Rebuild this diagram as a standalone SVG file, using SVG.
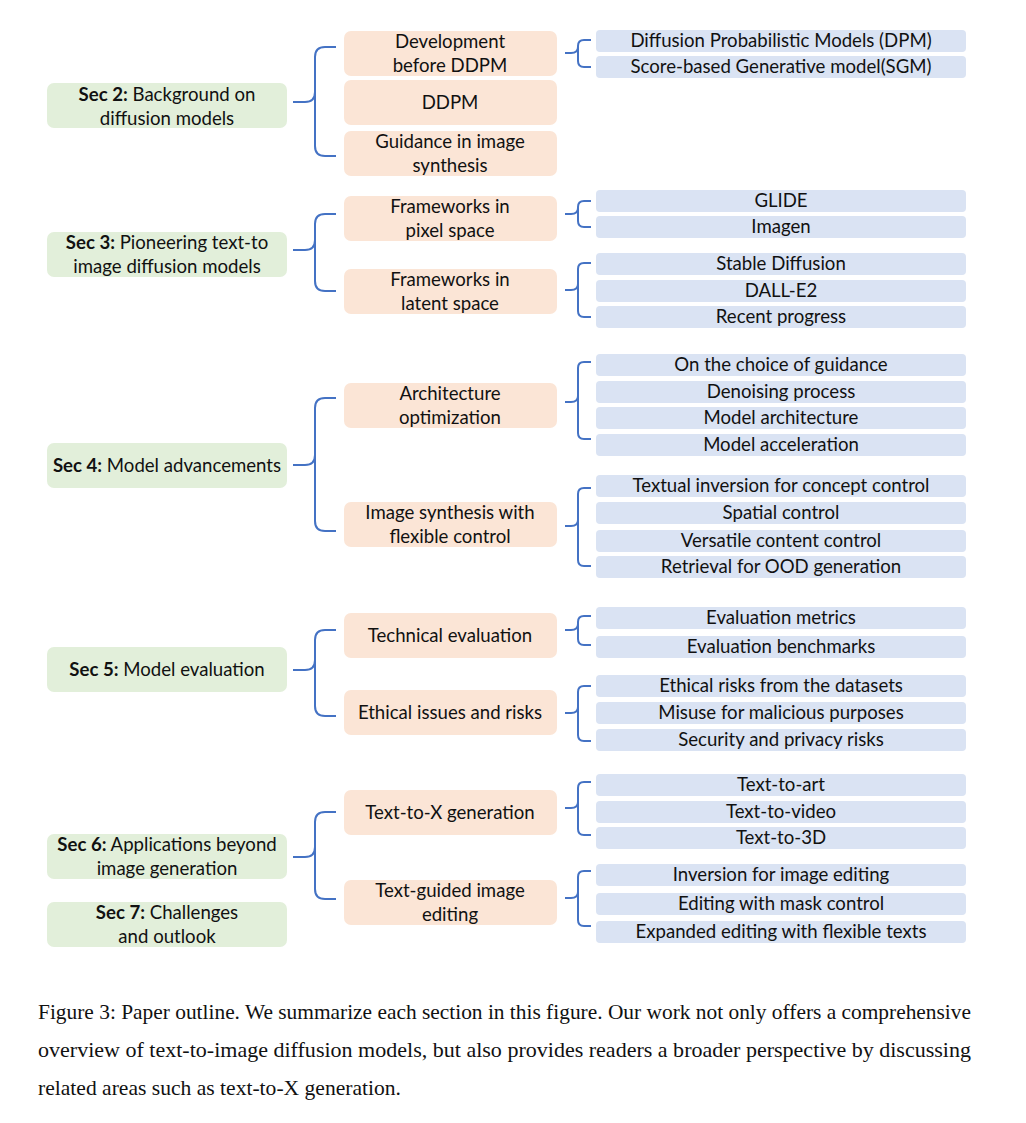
<svg xmlns="http://www.w3.org/2000/svg" width="1026" height="1123" viewBox="0 0 1026 1123">
<style>
.g{fill:#e2efda}
.o{fill:#fbe5d6}
.b{fill:#dae3f3}
text{font-family:Lato,"Open Sans","Liberation Sans",sans-serif;font-size:18.6px;fill:#111;text-anchor:middle}
.cap{font-family:"Liberation Serif","Times New Roman",serif;font-size:21px;text-anchor:start}
.br{fill:none;stroke:#4472c4;stroke-width:2}
</style>
<rect width="1026" height="1123" fill="#fff"/>
<g id="connectors">
<path class="br" d="M293,102 H305 Q315,102 315,92 V57 Q315,47 325,47 H336 M315,92 V146 Q315,156 325,156 H336"/>
<path class="br" d="M293,250 H305 Q315,250 315,240 V224 Q315,214 325,214 H336 M315,240 V281 Q315,291 325,291 H336"/>
<path class="br" d="M293,465 H305 Q315,465 315,455 V408 Q315,398 325,398 H336 M315,455 V521 Q315,531 325,531 H336"/>
<path class="br" d="M293,670 H305 Q315,670 315,660 V640 Q315,630 325,630 H336 M315,660 V706 Q315,716 325,716 H336"/>
<path class="br" d="M293,857 H305 Q315,857 315,847 V822 Q315,812 325,812 H336 M315,847 V889 Q315,899 325,899 H336"/>
<path class="br" d="M565,53 H571 Q578,53 578,47 V46 Q578,40 584,40 H591 M578,47 V61 Q578,67 584,67 H591"/>
<path class="br" d="M565,214 H571 Q578,214 578,208 V207 Q578,201 584,201 H591 M578,208 V221 Q578,227 584,227 H591"/>
<path class="br" d="M565,290 H571 Q578,290 578,284 V269 Q578,263 584,263 H591 M578,284 V311 Q578,317 584,317 H591"/>
<path class="br" d="M565,402 H571 Q578,402 578,396 V368 Q578,362 584,362 H591 M578,396 V433 Q578,439 584,439 H591"/>
<path class="br" d="M565,526 H571 Q578,526 578,520 V494 Q578,488 584,488 H591 M578,520 V560 Q578,566 584,566 H591"/>
<path class="br" d="M565,630 H571 Q578,630 578,624 V622 Q578,616 584,616 H591 M578,624 V639 Q578,645 584,645 H591"/>
<path class="br" d="M565,713 H571 Q578,713 578,707 V692 Q578,686 584,686 H591 M578,707 V735 Q578,741 584,741 H591"/>
<path class="br" d="M565,808 H571 Q578,808 578,802 V788 Q578,782 584,782 H591 M578,802 V829 Q578,835 584,835 H591"/>
<path class="br" d="M565,898 H571 Q578,898 578,892 V877 Q578,871 584,871 H591 M578,892 V920 Q578,926 584,926 H591"/>
</g>
<g id="sec2"><rect class="g" x="47" y="83" width="240" height="45" rx="7"/><text x="167" y="101"><tspan font-weight="bold">Sec 2:</tspan> Background on</text><text x="167" y="125">diffusion models</text></g>
<g id="sec3"><rect class="g" x="47" y="232" width="240" height="45" rx="7"/><text x="167" y="249"><tspan font-weight="bold">Sec 3:</tspan> Pioneering text-to</text><text x="167" y="273">image diffusion models</text></g>
<g id="sec4"><rect class="g" x="47" y="443" width="240" height="45" rx="7"/><text x="167" y="472"><tspan font-weight="bold">Sec 4:</tspan> Model advancements</text></g>
<g id="sec5"><rect class="g" x="47" y="647" width="240" height="45" rx="7"/><text x="167" y="676"><tspan font-weight="bold">Sec 5:</tspan> Model evaluation</text></g>
<g id="sec6"><rect class="g" x="47" y="834" width="240" height="45" rx="7"/><text x="167" y="851"><tspan font-weight="bold">Sec 6:</tspan> Applications beyond</text><text x="167" y="875">image generation</text></g>
<g id="sec7"><rect class="g" x="47" y="902" width="240" height="45" rx="7"/><text x="167" y="919"><tspan font-weight="bold">Sec 7:</tspan> Challenges</text><text x="167" y="943">and outlook</text></g>

<g id="dev"><rect class="o" x="344" y="31" width="213" height="45" rx="7"/><text x="450" y="48">Development</text><text x="450" y="72">before DDPM</text></g>
<g id="ddpm"><rect class="o" x="344" y="80" width="213" height="45" rx="7"/><text x="450" y="109">DDPM</text></g>
<g id="guid"><rect class="o" x="344" y="131" width="213" height="45" rx="7"/><text x="450" y="148">Guidance in image</text><text x="450" y="172">synthesis</text></g>
<g id="pixel"><rect class="o" x="344" y="196" width="213" height="45" rx="7"/><text x="450" y="213">Frameworks in</text><text x="450" y="237">pixel space</text></g>
<g id="latent"><rect class="o" x="344" y="269" width="213" height="45" rx="7"/><text x="450" y="286">Frameworks in</text><text x="450" y="310">latent space</text></g>
<g id="arch"><rect class="o" x="344" y="383" width="213" height="45" rx="7"/><text x="450" y="400">Architecture</text><text x="450" y="424">optimization</text></g>
<g id="flex"><rect class="o" x="344" y="502" width="213" height="45" rx="7"/><text x="450" y="519">Image synthesis with</text><text x="450" y="543">flexible control</text></g>
<g id="tech"><rect class="o" x="344" y="613" width="213" height="45" rx="7"/><text x="450" y="642">Technical evaluation</text></g>
<g id="ethic"><rect class="o" x="344" y="690" width="213" height="45" rx="7"/><text x="450" y="719">Ethical issues and risks</text></g>
<g id="t2x"><rect class="o" x="344" y="790" width="213" height="45" rx="7"/><text x="450" y="819">Text-to-X generation</text></g>
<g id="tgie"><rect class="o" x="344" y="880" width="213" height="45" rx="7"/><text x="450" y="897">Text-guided image</text><text x="450" y="921">editing</text></g>

<g id="l_dpm"><rect class="b" x="596" y="30" width="370" height="22" rx="4"/><text x="781" y="47">Diffusion Probabilistic Models (DPM)</text></g>
<g id="l_sgm"><rect class="b" x="596" y="56" width="370" height="22" rx="4"/><text x="781" y="73">Score-based Generative model(SGM)</text></g>
<g id="l_glide"><rect class="b" x="596" y="190" width="370" height="22" rx="4"/><text x="781" y="207">GLIDE</text></g>
<g id="l_imagen"><rect class="b" x="596" y="216" width="370" height="22" rx="4"/><text x="781" y="233">Imagen</text></g>
<g id="l_sd"><rect class="b" x="596" y="253" width="370" height="22" rx="4"/><text x="781" y="270">Stable Diffusion</text></g>
<g id="l_dalle"><rect class="b" x="596" y="280" width="370" height="22" rx="4"/><text x="781" y="297">DALL-E2</text></g>
<g id="l_recent"><rect class="b" x="596" y="306" width="370" height="22" rx="4"/><text x="781" y="323">Recent progress</text></g>
<g id="l_choice"><rect class="b" x="596" y="354" width="370" height="22" rx="4"/><text x="781" y="371">On the choice of guidance</text></g>
<g id="l_denoise"><rect class="b" x="596" y="381" width="370" height="22" rx="4"/><text x="781" y="398">Denoising process</text></g>
<g id="l_march"><rect class="b" x="596" y="407" width="370" height="22" rx="4"/><text x="781" y="424">Model architecture</text></g>
<g id="l_macc"><rect class="b" x="596" y="434" width="370" height="22" rx="4"/><text x="781" y="451">Model acceleration</text></g>
<g id="l_textinv"><rect class="b" x="596" y="475" width="370" height="22" rx="4"/><text x="781" y="492">Textual inversion for concept control</text></g>
<g id="l_spatial"><rect class="b" x="596" y="502" width="370" height="22" rx="4"/><text x="781" y="519">Spatial control</text></g>
<g id="l_vers"><rect class="b" x="596" y="530" width="370" height="22" rx="4"/><text x="781" y="547">Versatile content control</text></g>
<g id="l_retr"><rect class="b" x="596" y="556" width="370" height="22" rx="4"/><text x="781" y="573">Retrieval for OOD generation</text></g>
<g id="l_emet"><rect class="b" x="596" y="607" width="370" height="22" rx="4"/><text x="781" y="624">Evaluation metrics</text></g>
<g id="l_ebench"><rect class="b" x="596" y="636" width="370" height="22" rx="4"/><text x="781" y="653">Evaluation benchmarks</text></g>
<g id="l_erisk"><rect class="b" x="596" y="675" width="370" height="22" rx="4"/><text x="781" y="692">Ethical risks from the datasets</text></g>
<g id="l_misuse"><rect class="b" x="596" y="702" width="370" height="22" rx="4"/><text x="781" y="719">Misuse for malicious purposes</text></g>
<g id="l_sec"><rect class="b" x="596" y="729" width="370" height="22" rx="4"/><text x="781" y="746">Security and privacy risks</text></g>
<g id="l_art"><rect class="b" x="596" y="774" width="370" height="22" rx="4"/><text x="781" y="791">Text-to-art</text></g>
<g id="l_video"><rect class="b" x="596" y="801" width="370" height="22" rx="4"/><text x="781" y="818">Text-to-video</text></g>
<g id="l_3d"><rect class="b" x="596" y="827" width="370" height="22" rx="4"/><text x="781" y="844">Text-to-3D</text></g>
<g id="l_inv"><rect class="b" x="596" y="864" width="370" height="22" rx="4"/><text x="781" y="881">Inversion for image editing</text></g>
<g id="l_mask"><rect class="b" x="596" y="893" width="370" height="22" rx="4"/><text x="781" y="910">Editing with mask control</text></g>
<g id="l_exp"><rect class="b" x="596" y="921" width="370" height="22" rx="4"/><text x="781" y="938">Expanded editing with flexible texts</text></g>

<g id="caption">
<text class="cap" x="38" y="1019" textLength="933" lengthAdjust="spacingAndGlyphs">Figure 3: Paper outline. We summarize each section in this figure. Our work not only offers a comprehensive</text>
<text class="cap" x="38" y="1057" textLength="933" lengthAdjust="spacingAndGlyphs">overview of text-to-image diffusion models, but also provides readers a broader perspective by discussing</text>
<text class="cap" x="38" y="1095" textLength="363" lengthAdjust="spacingAndGlyphs">related areas such as text-to-X generation.</text>
</g>
</svg>
